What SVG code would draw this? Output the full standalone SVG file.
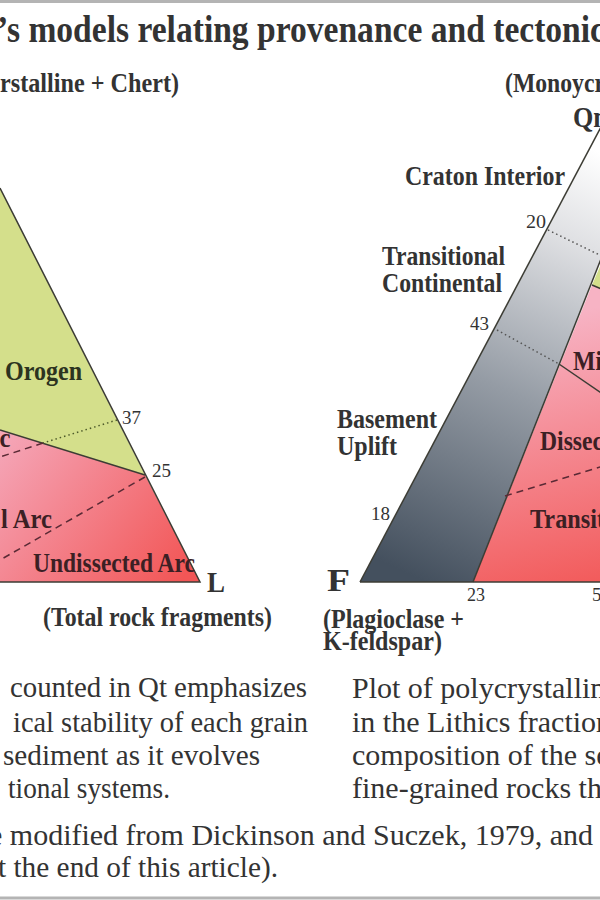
<svg xmlns="http://www.w3.org/2000/svg" width="600" height="900" viewBox="0 0 600 900">
<defs>
<linearGradient id="pinkL" gradientUnits="userSpaceOnUse" x1="0" y1="440" x2="180" y2="582">
<stop offset="0" stop-color="#f5a6b8"/><stop offset="1" stop-color="#f25656"/>
</linearGradient>
<linearGradient id="pinkR" gradientUnits="userSpaceOnUse" x1="540" y1="320" x2="600" y2="582">
<stop offset="0" stop-color="#f7b3c4"/><stop offset="1" stop-color="#f25b5b"/>
</linearGradient>
<linearGradient id="grayband" gradientUnits="userSpaceOnUse" x1="400" y1="570" x2="595" y2="150">
<stop offset="0" stop-color="#44505e"/><stop offset="0.45" stop-color="#959ca5"/><stop offset="0.8" stop-color="#dfe0e3"/><stop offset="1" stop-color="#ffffff"/>
</linearGradient>
</defs>
<style>
.edge{fill:none;stroke:#3c3c34;stroke-width:1.5}
.dot{fill:none;stroke-width:1.5;stroke-dasharray:1.5 3}
.dash{fill:none;stroke:#5a2a35;stroke-width:1.5;stroke-dasharray:7 5}
.lbl{font-family:"Liberation Serif","Times New Roman",serif;font-weight:bold}
.num{font-family:"Liberation Serif","Times New Roman",serif;fill:#333;font-size:19px}
.body{font-family:"Liberation Serif","Times New Roman",serif;fill:#333;font-size:30px}
.pk{fill:#3b2024}
.gr{fill:#2c3320}
.dk{fill:#333}
</style>
<rect width="600" height="900" fill="#fff"/>
<line x1="0" y1="1.5" x2="600" y2="1.5" stroke="#b4b4b4" stroke-width="3"/>
<line x1="0" y1="898" x2="600" y2="898" stroke="#b4b4b4" stroke-width="3"/>

<g id="title">
<text class="lbl dk" x="-3" y="42" font-size="38" textLength="608" lengthAdjust="spacingAndGlyphs">’s models relating provenance and tectonic</text>
</g>

<g id="left-triangle">
<polygon id="recycled-orogen" points="0,188 145,475 0,430" fill="#d4df8b"/>
<polygon id="magmatic-arc" points="0,430 145,475 200,582 0,582" fill="url(#pinkL)"/>
<polyline class="edge" points="0,188 200,582 0,582"/>
<line class="edge" x1="145" y1="475" x2="0" y2="430"/>
</g>

<g id="right-triangle">
<polygon id="continental-block" points="360,582 473,582 660,110 610,110" fill="url(#grayband)"/>
<polygon id="arc-region" points="473,582 620,582 620,297 592,285" fill="url(#pinkR)"/>
<polygon id="orogen-region" points="592,285 620,297 620,220" fill="#d4df8b"/>
<line class="edge" x1="360" y1="582" x2="610" y2="110"/>
<line class="edge" x1="360" y1="582" x2="620" y2="582"/>
<line class="edge" x1="473" y1="582" x2="660" y2="110"/>
<line class="edge" x1="592" y1="285" x2="620" y2="297"/>
</g>

<g id="connectors">
<line class="dot" stroke="#4d5a2a" x1="117" y1="420" x2="43" y2="443"/>
<line class="dash" x1="43" y1="443" x2="0" y2="457"/>
<line class="dash" x1="145" y1="477" x2="0" y2="560"/>
<line class="dot" stroke="#555" x1="548" y1="230" x2="610" y2="260"/>
<line class="dot" stroke="#555" x1="497" y1="330" x2="559" y2="364"/>
<line class="edge" x1="559" y1="364" x2="610" y2="399"/>
<line class="dash" x1="505" y1="496" x2="610" y2="464"/>
</g>

<g id="left-labels">
<text class="lbl dk" x="0" y="92" font-size="28" textLength="179" lengthAdjust="spacingAndGlyphs">rstalline + Chert)</text>
<text class="lbl gr" x="5" y="380" font-size="28" textLength="77" lengthAdjust="spacingAndGlyphs">Orogen</text>
<text class="lbl pk" x="-0.5" y="447" font-size="28" textLength="11" lengthAdjust="spacingAndGlyphs">c</text>
<text class="lbl pk" x="1" y="528" font-size="28" textLength="51" lengthAdjust="spacingAndGlyphs">l Arc</text>
<text class="lbl pk" x="33" y="572" font-size="28" textLength="162" lengthAdjust="spacingAndGlyphs">Undissected Arc</text>
<text class="lbl dk" x="207" y="592" font-size="30" textLength="18" lengthAdjust="spacingAndGlyphs">L</text>
<text class="lbl dk" x="43" y="626" font-size="28" textLength="229" lengthAdjust="spacingAndGlyphs">(Total rock fragments)</text>
<text class="num" x="122" y="424" textLength="19" lengthAdjust="spacingAndGlyphs">37</text>
<text class="num" x="152" y="477" textLength="19" lengthAdjust="spacingAndGlyphs">25</text>
</g>

<g id="right-labels">
<text class="lbl dk" x="505" y="92" font-size="28" textLength="100" lengthAdjust="spacingAndGlyphs">(Monoycr</text>
<text class="lbl dk" x="573" y="127" font-size="30" textLength="42" lengthAdjust="spacingAndGlyphs">Qm</text>
<text class="lbl dk" x="405" y="185" font-size="28" textLength="160" lengthAdjust="spacingAndGlyphs">Craton Interior</text>
<text class="num" x="526" y="228" textLength="20" lengthAdjust="spacingAndGlyphs">20</text>
<text class="lbl dk" x="382" y="265" font-size="28" textLength="123" lengthAdjust="spacingAndGlyphs">Transitional</text>
<text class="lbl dk" x="382" y="292" font-size="28" textLength="120" lengthAdjust="spacingAndGlyphs">Continental</text>
<text class="num" x="470" y="330" textLength="19" lengthAdjust="spacingAndGlyphs">43</text>
<text class="lbl dk" x="337" y="428" font-size="28" textLength="100" lengthAdjust="spacingAndGlyphs">Basement</text>
<text class="lbl dk" x="337" y="455" font-size="28" textLength="60" lengthAdjust="spacingAndGlyphs">Uplift</text>
<text class="lbl pk" x="573" y="370" font-size="28" textLength="29" lengthAdjust="spacingAndGlyphs">Mi</text>
<text class="lbl pk" x="540" y="450" font-size="28" textLength="63" lengthAdjust="spacingAndGlyphs">Dissec</text>
<text class="lbl pk" x="530" y="528" font-size="28" textLength="75" lengthAdjust="spacingAndGlyphs">Transit</text>
<text class="num" x="371" y="520" textLength="19" lengthAdjust="spacingAndGlyphs">18</text>
<text class="lbl dk" x="327" y="591" font-size="32" textLength="23" lengthAdjust="spacingAndGlyphs">F</text>
<text class="num" x="467" y="601" textLength="18" lengthAdjust="spacingAndGlyphs">23</text>
<text class="num" x="592" y="601">5</text>
<text class="lbl dk" x="323" y="628" font-size="28" textLength="141" lengthAdjust="spacingAndGlyphs">(Plagioclase +</text>
<text class="lbl dk" x="323" y="650" font-size="28" textLength="119" lengthAdjust="spacingAndGlyphs">K-feldspar)</text>
</g>

<g id="captions">
<text class="body" x="10" y="697" textLength="297" lengthAdjust="spacingAndGlyphs">counted in Qt emphasizes</text>
<text class="body" x="13" y="732" textLength="295" lengthAdjust="spacingAndGlyphs">ical stability of each grain</text>
<text class="body" x="3" y="765" textLength="257" lengthAdjust="spacingAndGlyphs">sediment as it evolves</text>
<text class="body" x="8" y="798" textLength="162" lengthAdjust="spacingAndGlyphs">tional systems.</text>
<text class="body" x="352" y="698">Plot of polycrystallin</text>
<text class="body" x="352" y="732">in the Lithics fraction</text>
<text class="body" x="352" y="765">composition of the se</text>
<text class="body" x="352" y="798">fine-grained rocks th</text>
<text class="body" x="-11" y="845" textLength="604" lengthAdjust="spacingAndGlyphs">e modified from Dickinson and Suczek, 1979, and</text>
<text class="body" x="-15" y="877" textLength="293" lengthAdjust="spacingAndGlyphs">at the end of this article).</text>
</g>
</svg>
